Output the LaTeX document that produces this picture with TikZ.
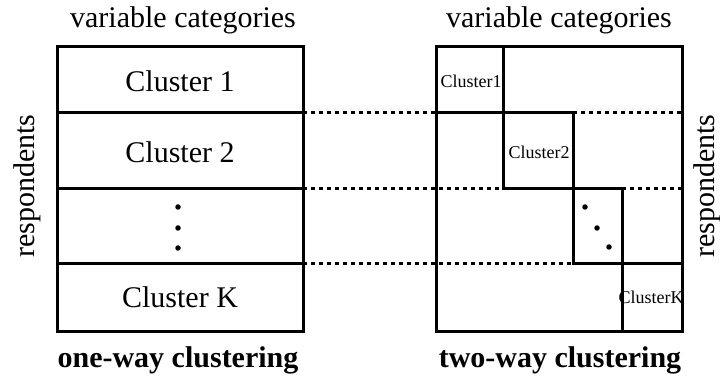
\documentclass[tikz,border=0pt]{standalone}
\usepackage{fontspec}
\setmainfont{Liberation Serif}
\tikzset{
  box/.style={line width=3pt},
  sep/.style={line width=3pt, dash pattern=on 3.5pt off 4.5pt},
  big/.style={font=\fontsize{30}{34}\selectfont, inner sep=0pt},
  small/.style={font=\fontsize{18}{21}\selectfont, inner sep=0pt},
  title/.style={font=\fontsize{30}{34}\selectfont\bfseries, inner sep=0pt},
  pt/.style={fill, circle, inner sep=0pt, minimum size=5.5pt},
}
\begin{document}
\begin{tikzpicture}[x=1pt, y=-1pt]
    \useasboundingbox (0,0) rectangle (720,387);
    % one-way
    \coordinate (a1) at (57,47);
    \coordinate (a2) at (303,331);
    \coordinate (r1) at (303,113);
    \coordinate (r2) at (303,189);
    \coordinate (r3) at (303,264);
    \draw[box] (a1) rectangle (a2);
    \draw[box] (57,113) -- (r1);
    \draw[box] (57,189) -- (r2);
    \draw[box] (57,264) -- (r3);
    \node[big] (c1) at (180,81) {Cluster 1};
    \node[big] (c2) at (180,152) {Cluster 2};
    \node[big] (ck) at (180,297) {Cluster K};
    \node[pt] (d1) at (178,207) {};
    \node[pt] (d2) at (178,228) {};
    \node[pt] (d3) at (178,248) {};
    \node[big] (v1) at (183,20) {variable categories};
    \node[big, rotate=90] (p1) at (27,186) {respondents};
    \node[title] (t1) at (178,360) {one-way clustering};
    % two-way
    \coordinate (b1) at (436,47);
    \coordinate (b2) at (682,331);
    \coordinate (s1) at (436,113);
    \coordinate (s2) at (436,189);
    \coordinate (s3) at (436,264);
    \draw[box] (b1) rectangle (b2);
    \draw[box] (503,47) -- (503,189) -- (573,189) -- (573,264) -- (682,264);
    \draw[box] (s1) -- (573,113) -- (573,189);
    \draw[box] (573,189) -- (622,189) -- (622,331);
    \draw[sep] (r1) -- (s1);
    \draw[sep] (r2) -- (503,189);
    \draw[sep] (r3) -- (573,264);
    \draw[sep] (573,113) -- (682,113);
    \draw[sep] (622,189) -- (682,189);
    \node[small] (k1) at (471,81) {Cluster1};
    \node[small] (k2) at (539,152) {Cluster2};
    \node[small] (kk) at (651,297) {ClusterK};
    \node[pt] (e1) at (585,207) {};
    \node[pt] (e2) at (597,228) {};
    \node[pt] (e3) at (609,247) {};
    \node[big] (v2) at (559,20) {variable categories};
    \node[big, rotate=90] (p2) at (707,186) {respondents};
    \node[title] (t2) at (560,360) {two-way clustering};
\end{tikzpicture}
\end{document}
